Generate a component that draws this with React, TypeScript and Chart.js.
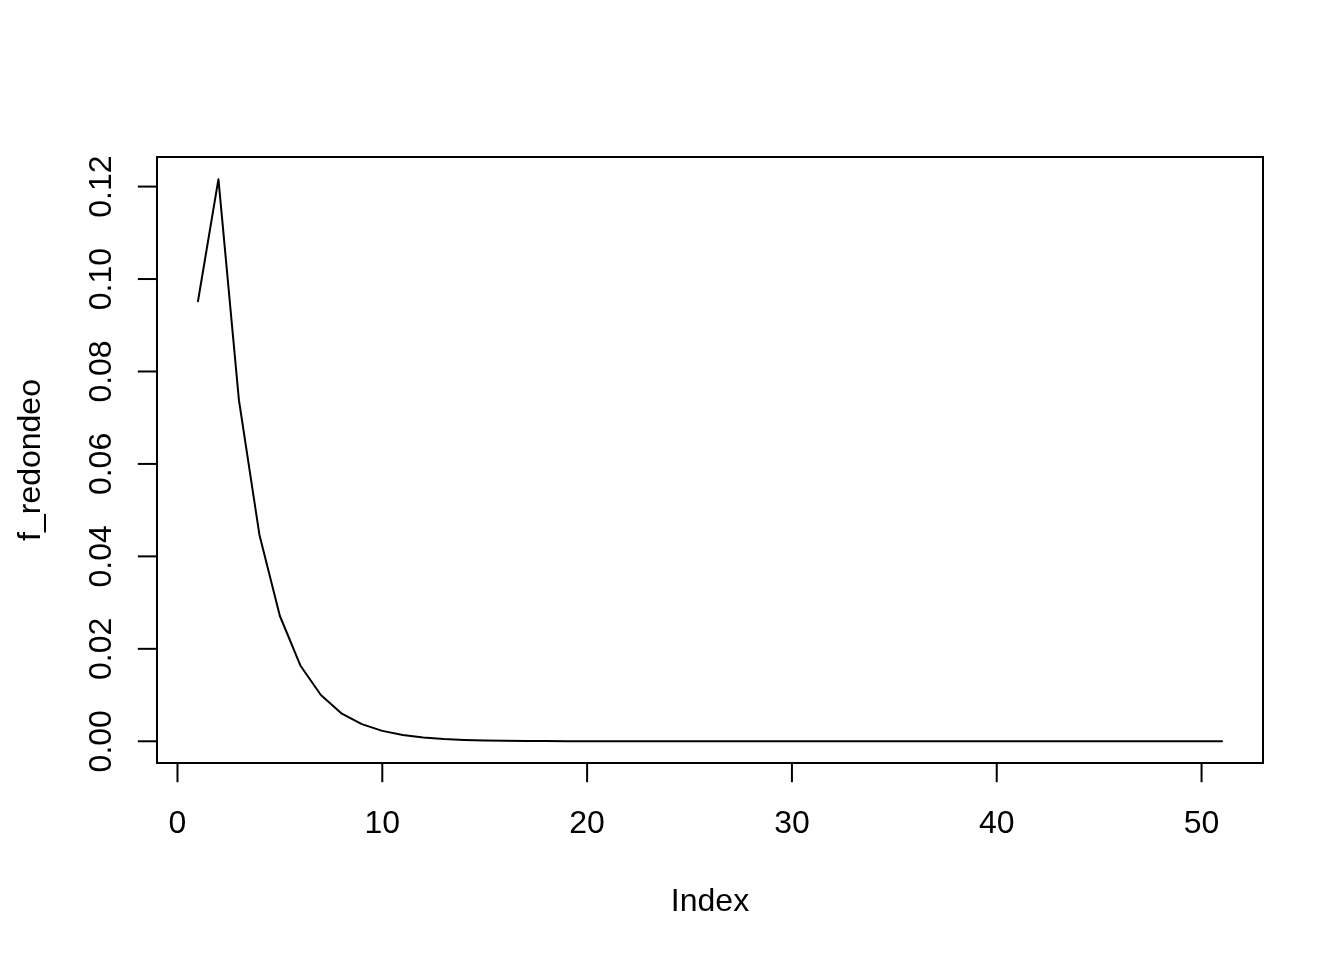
import React, { useEffect, useRef } from "react";
import { Chart, registerables } from "chart.js";

Chart.register(...registerables);

const indexValues: number[] = Array.from({ length: 51 }, (_, i) => i + 1);

const fRedondeo: number[] = [
  0.0952, 0.1216, 0.0738, 0.0447, 0.0271, 0.0164, 0.01, 0.00606, 0.00372, 0.00225,
  0.00137, 0.00083, 0.0005, 0.0003, 0.00018, 0.00011, 0.00007, 0.00004, 0.000025, 0.000015,
  0.00001, 0.000006, 0.000004, 0.000002, 0.000001, 0, 0, 0, 0, 0,
  0, 0, 0, 0, 0, 0, 0, 0, 0, 0,
  0, 0, 0, 0, 0, 0, 0, 0, 0, 0,
  0,
];

const xTicks: number[] = [0, 10, 20, 30, 40, 50];
const yTicks: number[] = [0, 0.02, 0.04, 0.06, 0.08, 0.1, 0.12];
const yTickLabels: string[] = ["0.00", "0.02", "0.04", "0.06", "0.08", "0.10", "0.12"];
const xTitle = "Index";
const yTitle = "f_redondeo";

const FONT = "32px 'Liberation Sans', Arial, Helvetica, sans-serif";

const rAxesPlugin = {
  id: "rAxes",
  afterDraw(chart: any) {
    const ctx = chart.ctx as CanvasRenderingContext2D;
    const area = chart.chartArea;
    const xs = chart.scales.x;
    const ys = chart.scales.y;
    ctx.save();
    ctx.strokeStyle = "#000";
    ctx.fillStyle = "#000";
    ctx.lineWidth = 2;
    ctx.lineCap = "butt";
    // box
    ctx.strokeRect(area.left, area.top, area.right - area.left, area.bottom - area.top);
    // x axis
    const xa = xs.getPixelForValue(xTicks[0]);
    const xb = xs.getPixelForValue(xTicks[xTicks.length - 1]);
    ctx.beginPath();
    ctx.moveTo(xa, area.bottom);
    ctx.lineTo(xb, area.bottom);
    ctx.stroke();
    ctx.font = FONT;
    ctx.textAlign = "center";
    ctx.textBaseline = "alphabetic";
    xTicks.forEach((t) => {
      const px = xs.getPixelForValue(t);
      ctx.beginPath();
      ctx.moveTo(px, area.bottom);
      ctx.lineTo(px, area.bottom + 19.2);
      ctx.stroke();
      ctx.fillText(String(t), px, 833);
    });
    // y axis
    const ya = ys.getPixelForValue(yTicks[0]);
    const yb = ys.getPixelForValue(yTicks[yTicks.length - 1]);
    ctx.beginPath();
    ctx.moveTo(area.left, ya);
    ctx.lineTo(area.left, yb);
    ctx.stroke();
    yTicks.forEach((t, i) => {
      const py = ys.getPixelForValue(t);
      ctx.beginPath();
      ctx.moveTo(area.left, py);
      ctx.lineTo(area.left - 19.2, py);
      ctx.stroke();
      ctx.save();
      ctx.translate(111, py);
      ctx.rotate(-Math.PI / 2);
      ctx.fillText(yTickLabels[i], 0, 0);
      ctx.restore();
    });
    // titles
    ctx.fillText(xTitle, (area.left + area.right) / 2, 911);
    ctx.save();
    ctx.translate(40, (area.top + area.bottom) / 2);
    ctx.rotate(-Math.PI / 2);
    ctx.fillText(yTitle, 0, 0);
    ctx.restore();
    ctx.restore();
  },
};

export default function App() {
  const ref = useRef<HTMLCanvasElement | null>(null);
  useEffect(() => {
    if (!ref.current) return;
    const chart = new Chart(ref.current, {
      type: "line",
      data: {
        datasets: [
          {
            data: indexValues.map((x, i) => ({ x, y: fRedondeo[i] })),
            borderColor: "#000",
            borderWidth: 2,
            borderJoinStyle: "round",
            borderCapStyle: "round",
            pointRadius: 0,
            tension: 0,
            fill: false,
          },
        ],
      },
      options: {
        animation: false,
        responsive: false,
        maintainAspectRatio: false,
        layout: { padding: { left: 157, right: 81, top: 157, bottom: 197 } },
        plugins: { legend: { display: false }, tooltip: { enabled: false } },
        scales: {
          x: { type: "linear", min: -1, max: 53, display: false },
          y: { type: "linear", min: -0.0047, max: 0.1264, display: false },
        },
      },
      plugins: [rAxesPlugin],
    });
    return () => chart.destroy();
  }, []);
  return (
    <div style={{ position: "absolute", left: 0, top: 0, width: 1344, height: 960, background: "#fff" }}>
      <canvas ref={ref} width={1344} height={960} style={{ width: 1344, height: 960 }} />
    </div>
  );
}
